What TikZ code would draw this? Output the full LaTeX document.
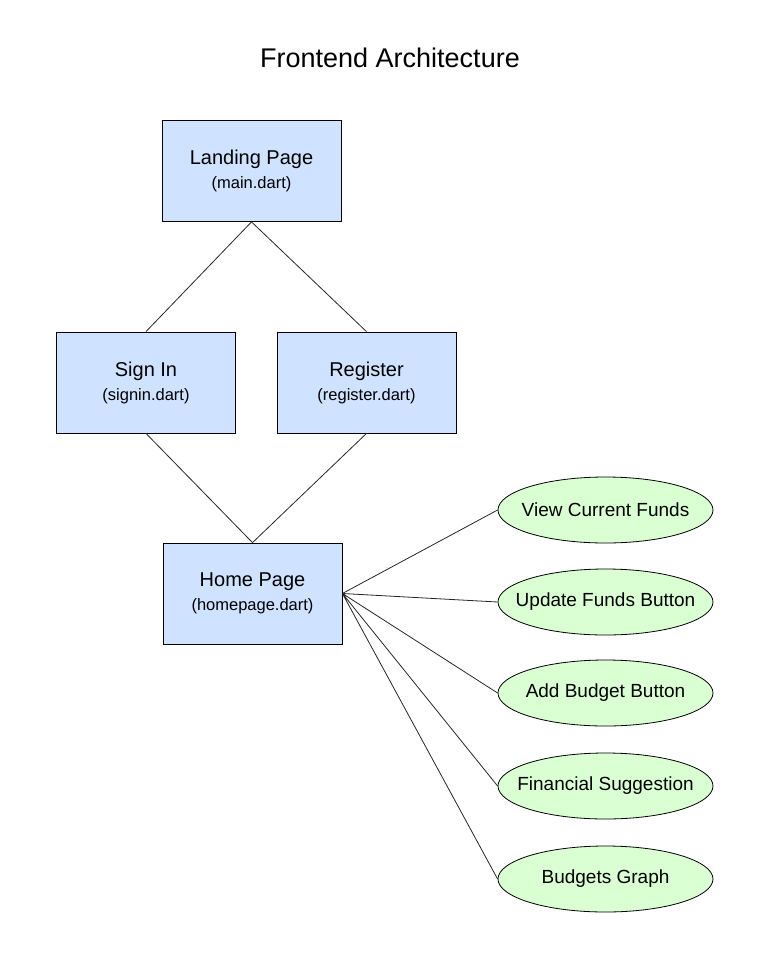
\documentclass[tikz,border=0pt]{standalone}
\usepackage{fontspec}
\setmainfont{Liberation Sans}
\usetikzlibrary{shapes.geometric,positioning}
\definecolor{pageblue}{RGB}{207,226,255}
\definecolor{featgreen}{RGB}{217,255,211}
\newcommand{\dartfile}[1]{{\fontsize{16.5}{20}\selectfont #1}}
\newcommand{\feattext}[1]{\makebox[0pt]{#1}}

\begin{document}
\begin{tikzpicture}[x=1pt, y=-1pt,
    page/.style={draw=black, fill=pageblue, line width=0.8pt,
        minimum width=179pt, minimum height=101pt, align=center,
        font=\fontsize{20}{24}\selectfont},
    feat/.style={ellipse, draw=black, fill=featgreen, line width=0.8pt,
        minimum width=215pt, minimum height=66pt,
        font=\fontsize{19}{22}\selectfont},
    link/.style={draw=black!85, line width=0.8pt}]
    \useasboundingbox (0, 0) rectangle (761, 966);
    \node (title) at (390, 58) {\fontsize{27}{30}\selectfont Frontend Architecture};
    % pages
    \node[page] (landing) at (251.5, 171) {Landing Page\\\dartfile{(main.dart)}};
    \node[page] (signin) at (146, 382.5) {Sign In\\\dartfile{(signin.dart)}};
    \node[page] (register) at (366.5, 382.5) {Register\\\dartfile{(register.dart)}};
    \node[page] (home) at (252.5, 593.5) {Home Page\\\dartfile{(homepage.dart)}};
    % home page features
    \node[feat] (funds) at (605.5, 510) {\feattext{View Current Funds}};
    \node[feat] (update) at (605.5, 602) {\feattext{Update Funds Button}};
    \node[feat] (budget) at (605.5, 693) {\feattext{Add Budget Button}};
    \node[feat] (suggest) at (605.5, 786) {\feattext{Financial Suggestion}};
    \node[feat] (graph) at (605.5, 879) {\feattext{Budgets Graph}};
    \draw[link]
    (landing.south) -- (signin.north)
    (landing.south) -- (register.north)
    (signin.south) -- (home.north)
    (register.south) -- (home.north)
    (home.east) -- (funds.west)
    (home.east) -- (update.west)
    (home.east) -- (budget.west)
    (home.east) -- (suggest.west)
    (home.east) -- (graph.west);
\end{tikzpicture}
\end{document}
